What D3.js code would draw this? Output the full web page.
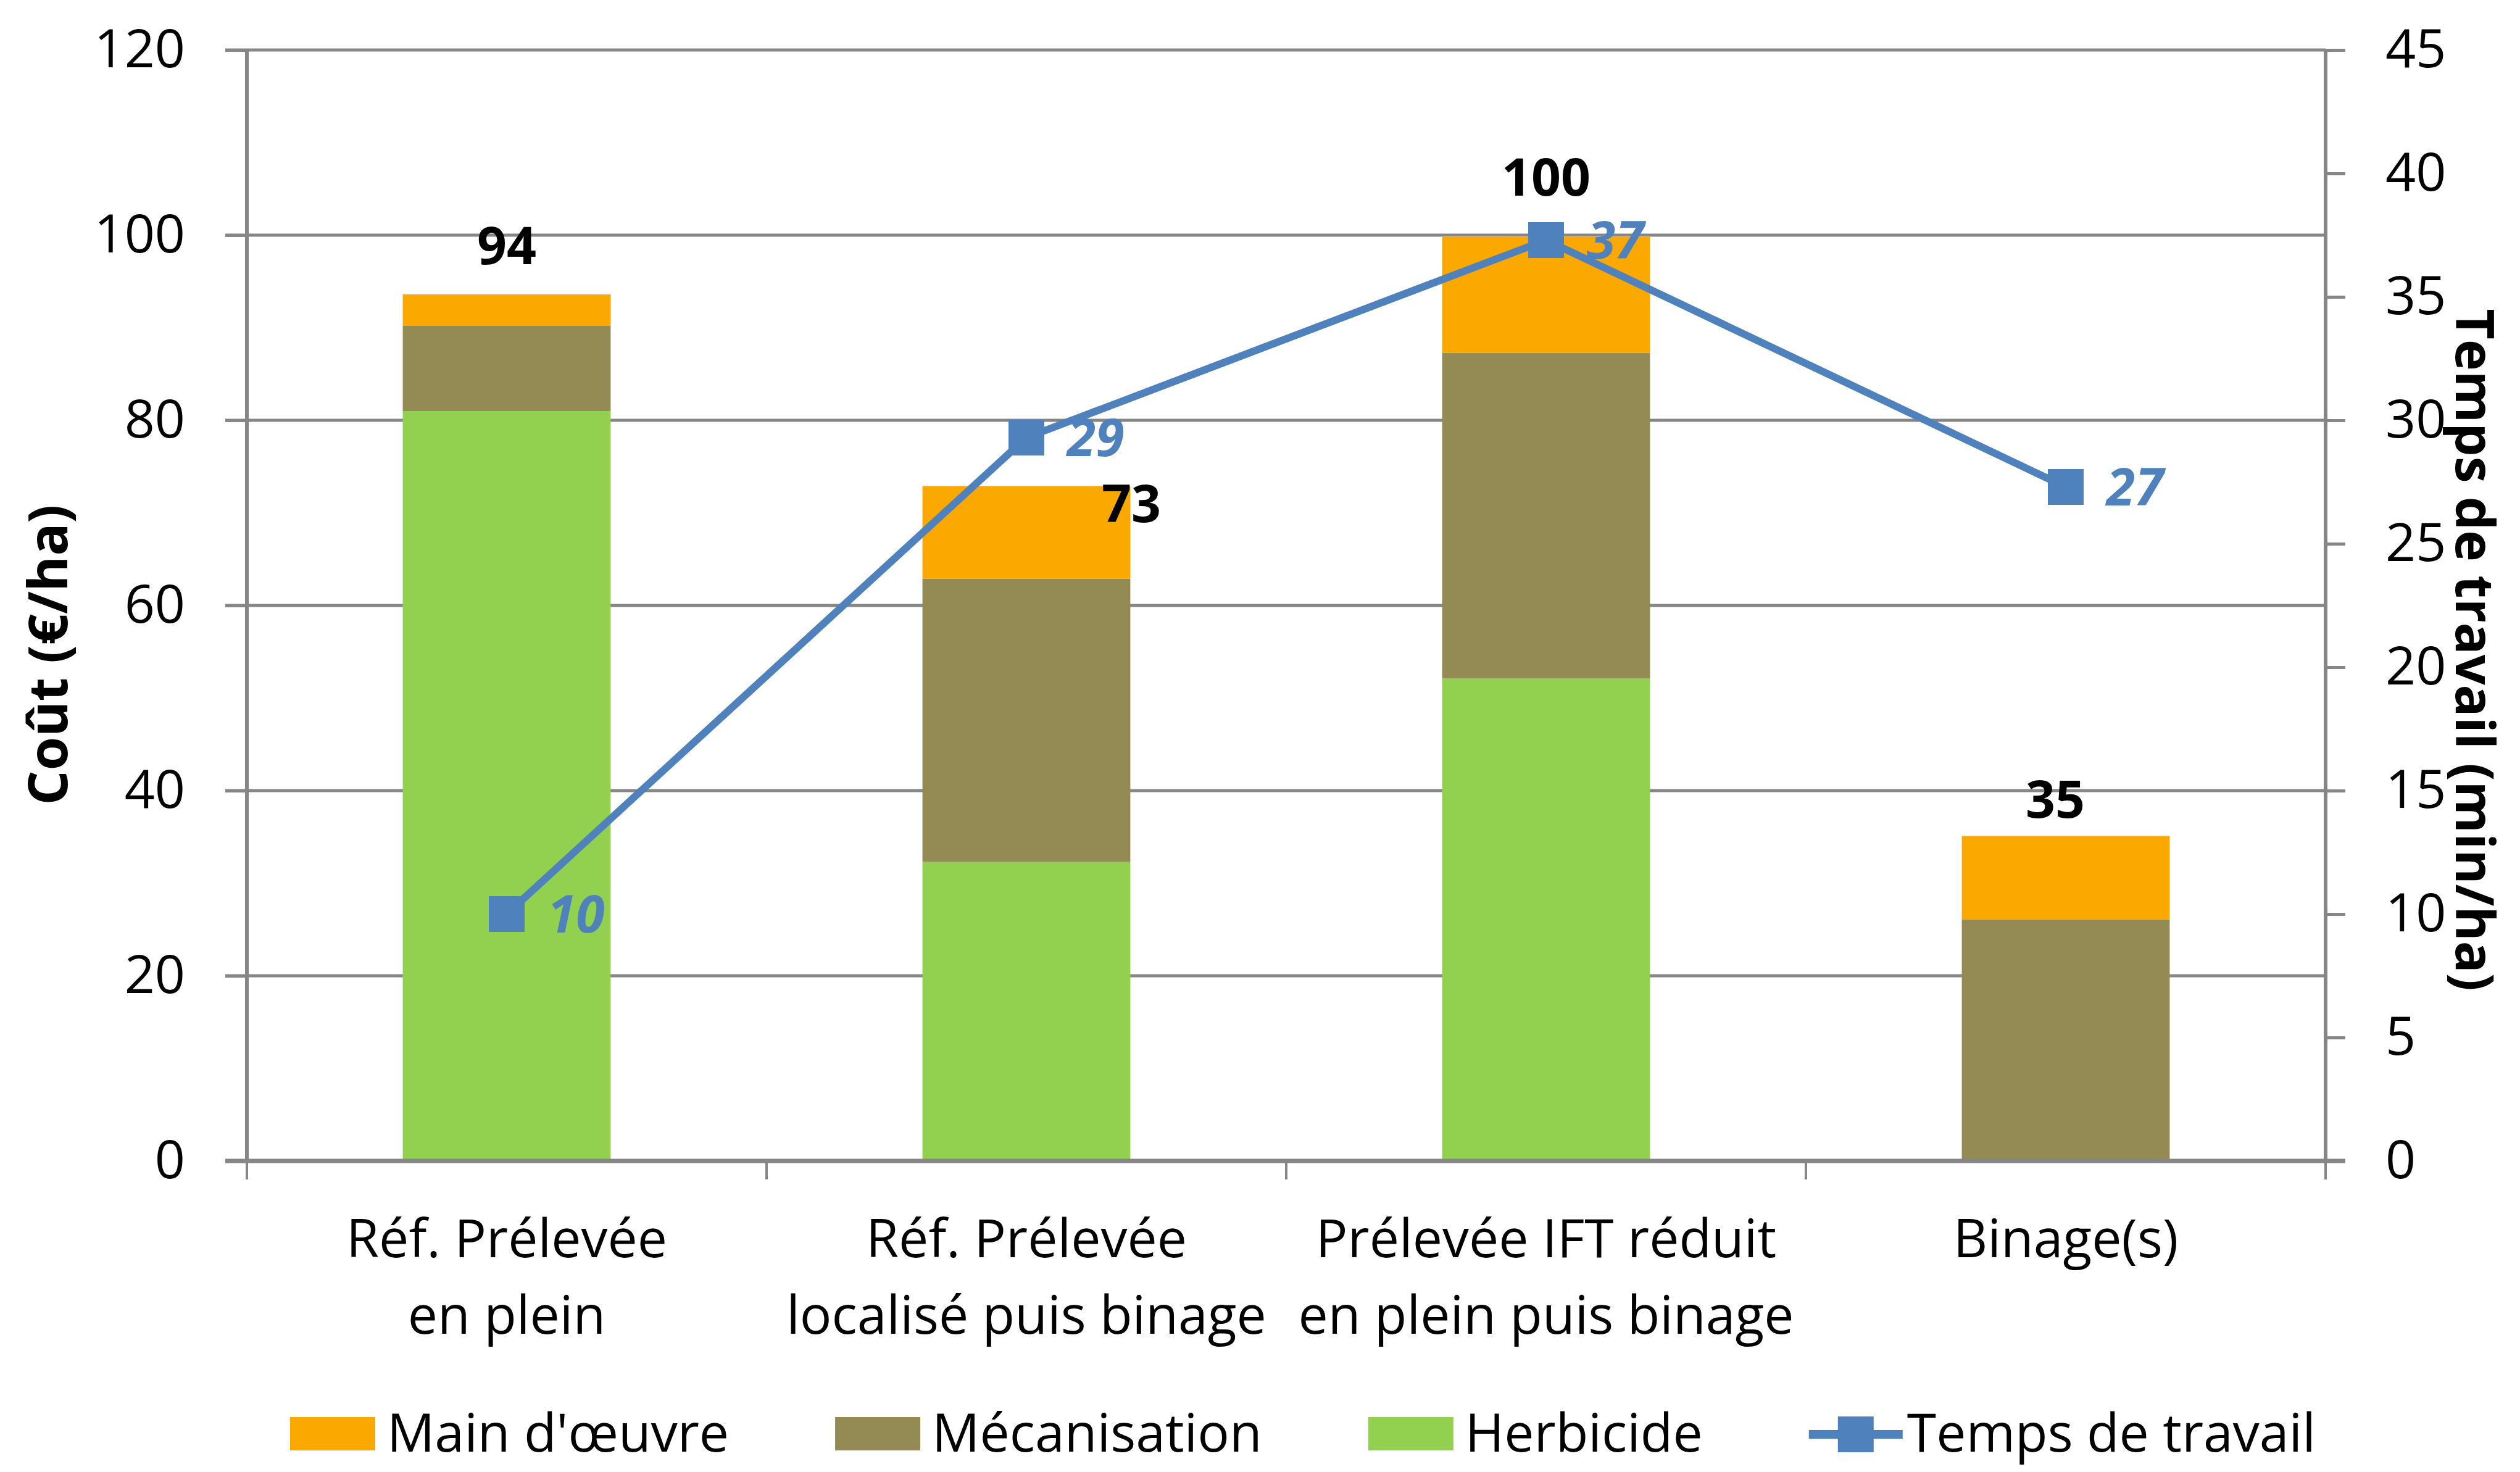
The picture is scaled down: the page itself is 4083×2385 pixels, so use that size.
<!DOCTYPE html>
<html>
<head>
<meta charset="utf-8">
<script src="https://cdn.jsdelivr.net/npm/d3@7"></script>
<style>
  body { margin: 0; background: #fff; }
  text { font-family: "Open Sans", "Noto Sans", sans-serif; }
</style>
</head>
<body>
<script>
// categories (two lines each on the x axis)
const categories = [
  ["Réf. Prélevée", "en plein"],
  ["Réf. Prélevée", "localisé puis binage"],
  ["Prélevée IFT réduit", "en plein puis binage"],
  ["Binage(s)"]
];

// stacked costs (€/ha), bottom to top
const herbicide    = [81.0, 32.3, 52.1, 0];
const mecanisation = [9.2, 30.6, 35.2, 26.1];
const mainOeuvre   = [3.4, 10.0, 12.5, 9.0];

// working time (min/ha), right axis
const tempsTravail = [10.0, 29.3, 37.3, 27.3];

const leftTicks  = [0, 20, 40, 60, 80, 100, 120];
const rightTicks = [0, 5, 10, 15, 20, 25, 30, 35, 40, 45];

const seriesNames  = ["Main d'œuvre", "Mécanisation", "Herbicide"];
const lineName     = "Temps de travail";

const colors = { main: "#FBA800", meca: "#948A54", herb: "#92D050", line: "#4F81BD", grid: "#868686" };

var W = 4083, H = 2385;
var margin = { top: 81, right: 315, bottom: 504, left: 400 };

var svg = d3.select("body").append("svg")
  .attr("width", W)
  .attr("height", H);

var x = d3.scaleBand()
  .domain(d3.range(categories.length))
  .range([margin.left, W - margin.right])
  .paddingInner(0.6)
  .paddingOuter(0.3);

var yL = d3.scaleLinear().domain([0, 120]).range([H - margin.bottom, margin.top]);
var yR = d3.scaleLinear().domain([0, 45]).range([H - margin.bottom, margin.top]);

var x0 = x.range()[0], x1 = x.range()[1], yBase = yL(0);

// gridlines (extend left as tick marks)
svg.append("g")
  .selectAll("line")
  .data(leftTicks.filter(d => d > 0))
  .enter()
  .append("line")
  .attr("x1", x0 - 35)
  .attr("x2", x1)
  .attr("y1", d => yL(d))
  .attr("y2", d => yL(d))
  .attr("stroke", colors.grid)
  .attr("stroke-width", 5);

// stacked bars
var stackData = categories.map((c, i) => ({ i: i, herb: herbicide[i], meca: mecanisation[i], main: mainOeuvre[i] }));
var stack = d3.stack().keys(["herb", "meca", "main"]);
var layers = stack(stackData);

svg.append("g")
  .selectAll("g")
  .data(layers)
  .enter()
  .append("g")
  .attr("fill", d => colors[d.key])
  .selectAll("rect")
  .data(d => d)
  .enter()
  .append("rect")
  .attr("x", d => x(d.data.i))
  .attr("width", x.bandwidth())
  .attr("y", d => yL(d[1]))
  .attr("height", d => yL(d[0]) - yL(d[1]));

// left axis
var axL = svg.append("g")
  .attr("transform", "translate(" + x0 + ",0)")
  .call(d3.axisLeft(yL).tickValues(leftTicks).tickSize(35).tickPadding(65));
axL.select(".domain").remove();
axL.selectAll(".tick line").attr("stroke", colors.grid).attr("stroke-width", 5);
axL.selectAll(".tick text")
  .attr("font-size", 86)
  .attr("font-family", "Open Sans")
  .attr("fill", "#000");
svg.append("line")
  .attr("x1", x0).attr("x2", x0)
  .attr("y1", yL(120)).attr("y2", yBase)
  .attr("stroke", colors.grid).attr("stroke-width", 6);

// right axis
var axR = svg.append("g")
  .attr("transform", "translate(" + x1 + ",0)")
  .call(d3.axisRight(yR).tickValues(rightTicks).tickSize(32).tickPadding(65));
axR.select(".domain").remove();
axR.selectAll(".tick line").attr("stroke", colors.grid).attr("stroke-width", 5);
axR.selectAll(".tick text")
  .attr("font-size", 86)
  .attr("font-family", "Open Sans")
  .attr("fill", "#000");
svg.append("line")
  .attr("x1", x1).attr("x2", x1)
  .attr("y1", yR(45)).attr("y2", yBase)
  .attr("stroke", colors.grid).attr("stroke-width", 6);

// bottom axis
svg.append("g")
  .selectAll("line")
  .data(d3.range(categories.length + 1))
  .enter()
  .append("line")
  .attr("x1", i => x0 + i * x.step())
  .attr("x2", i => x0 + i * x.step())
  .attr("y1", yBase)
  .attr("y2", yBase + 30)
  .attr("stroke", colors.grid)
  .attr("stroke-width", 4);
svg.append("line")
  .attr("x1", x0 - 35).attr("x2", x1 + 32)
  .attr("y1", yBase).attr("y2", yBase)
  .attr("stroke", colors.grid).attr("stroke-width", 7);

var catText = svg.append("g")
  .selectAll("text")
  .data(categories)
  .enter()
  .append("text")
  .attr("text-anchor", "middle")
  .attr("font-size", 86)
  .attr("fill", "#000");
catText.each(function (lines, i) {
  var t = d3.select(this);
  lines.forEach((ln, k) => {
    t.append("tspan")
      .attr("x", x(i) + x.bandwidth() / 2)
      .attr("y", yBase + 156 + k * 124)
      .text(ln);
  });
});

// total labels above bars (nudged like the original)
var totalNudge = [[0, -49], [170, 58], [0, -67], [-17, -30]];
svg.append("g")
  .selectAll("text")
  .data(stackData)
  .enter()
  .append("text")
  .attr("x", d => x(d.i) + x.bandwidth() / 2 + totalNudge[d.i][0])
  .attr("y", d => yL(d.herb + d.meca + d.main) + totalNudge[d.i][1])
  .attr("text-anchor", "middle")
  .attr("font-size", 84)
  .attr("font-weight", "bold")
  .attr("fill", "#000")
  .text(d => d3.format(".0f")(d.herb + d.meca + d.main));

// working time line
var cx = i => x(i) + x.bandwidth() / 2;
var line = d3.line()
  .x((d, i) => cx(i))
  .y(d => yR(d));

svg.append("path")
  .datum(tempsTravail)
  .attr("d", line)
  .attr("fill", "none")
  .attr("stroke", colors.line)
  .attr("stroke-width", 12)
  .attr("stroke-linejoin", "round");

svg.append("g")
  .selectAll("rect")
  .data(tempsTravail)
  .enter()
  .append("rect")
  .attr("x", (d, i) => cx(i) - 29)
  .attr("y", d => yR(d) - 29)
  .attr("width", 58)
  .attr("height", 58)
  .attr("fill", colors.line);

svg.append("g")
  .selectAll("text")
  .data(tempsTravail)
  .enter()
  .append("text")
  .attr("x", (d, i) => cx(i) + 66)
  .attr("y", d => yR(d))
  .attr("dy", "0.36em")
  .attr("font-size", 84)
  .attr("font-weight", "bold")
  .attr("font-style", "italic")
  .attr("fill", colors.line)
  .text(d => d3.format(".0f")(d));

// axis titles
svg.append("text")
  .attr("transform", "translate(77," + (yL(60) + 80) + ") rotate(-90)")
  .attr("text-anchor", "middle")
  .attr("dy", "0.36em")
  .attr("font-size", 88)
  .attr("font-weight", "bold")
  .text("Coût (€/ha)");

svg.append("text")
  .attr("transform", "translate(4010," + (yR(22.5) + 72) + ") rotate(90)")
  .attr("text-anchor", "middle")
  .attr("dy", "0.36em")
  .attr("font-size", 86)
  .attr("font-weight", "bold")
  .text("Temps de travail (min/ha)");

// legend
var legend = svg.append("g");
var legendItems = [
  { name: seriesNames[0], color: colors.main, type: "box" },
  { name: seriesNames[1], color: colors.meca, type: "box" },
  { name: seriesNames[2], color: colors.herb, type: "box" },
  { name: lineName, color: colors.line, type: "line" }
];
var lx = 0, ly = 2324;
legendItems.forEach(item => {
  var g = legend.append("g").attr("transform", "translate(" + lx + ",0)");
  var symW;
  if (item.type === "box") {
    g.append("rect").attr("x", 0).attr("y", ly - 28).attr("width", 138).attr("height", 54).attr("fill", item.color);
    symW = 157;
  } else {
    g.append("line").attr("x1", 0).attr("x2", 152).attr("y1", ly).attr("y2", ly)
      .attr("stroke", item.color).attr("stroke-width", 14);
    g.append("rect").attr("x", 76 - 29).attr("y", ly - 29).attr("width", 58).attr("height", 58).attr("fill", item.color);
    symW = 159;
  }
  var t = g.append("text")
    .attr("x", symW)
    .attr("y", ly + 28)
    .attr("font-size", 86)
    .attr("fill", "#000")
    .text(item.name);
  lx += symW + t.node().getComputedTextLength() + 172;
});
var lw = legend.node().getBBox().width;
legend.attr("transform", "translate(" + (2111 - lw / 2) + ",0)");
</script>
</body>
</html>
